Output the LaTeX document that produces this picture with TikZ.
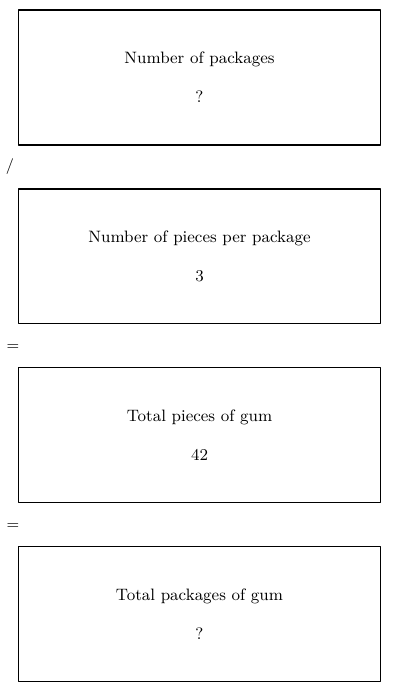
\documentclass[tikz,border=0pt]{standalone}
\usepackage{tikz}
\usetikzlibrary{positioning,calc}
\tikzset{
    every picture/.style={line cap=round,line join=round},
    qtybox/.style={draw=black,fill=white,line width=0.6pt,
      minimum width=72.6mm,minimum height=27mm,inner sep=2pt,outer sep=0pt,
      align=center,font=\fontsize{9.4}{11.3}\selectfont},
    opsign/.style={inner sep=0pt,font=\fontsize{9}{11}\selectfont}
}
\begin{document}
\begin{tikzpicture}[x=0.02cm,y=-0.02cm]
  \useasboundingbox (0,0) rectangle (400,693);
  \node[qtybox] (packages) at (199.5,77.5) {Number of packages\\[10.7pt]?};
  \node[qtybox,below=8.8mm of packages] (perpack) {Number of pieces per package\\[10.7pt]3};
  \node[qtybox,below=8.8mm of perpack] (pieces) {Total pieces of gum\\[10.7pt]42};
  \node[qtybox,below=8.8mm of pieces] (total) {Total packages of gum\\[10.7pt]?};
  % operator signs in the gaps
  \node[opsign] (div) at ($(packages.south west)!0.5!(perpack.north west)+(-8,0)$) {/};
  \node[opsign] (eq1) at ($(perpack.south west)!0.5!(pieces.north west)+(-5,2)$) {=};
  \node[opsign] (eq2) at ($(pieces.south west)!0.5!(total.north west)+(-5,2)$) {=};
\end{tikzpicture}
\end{document}
